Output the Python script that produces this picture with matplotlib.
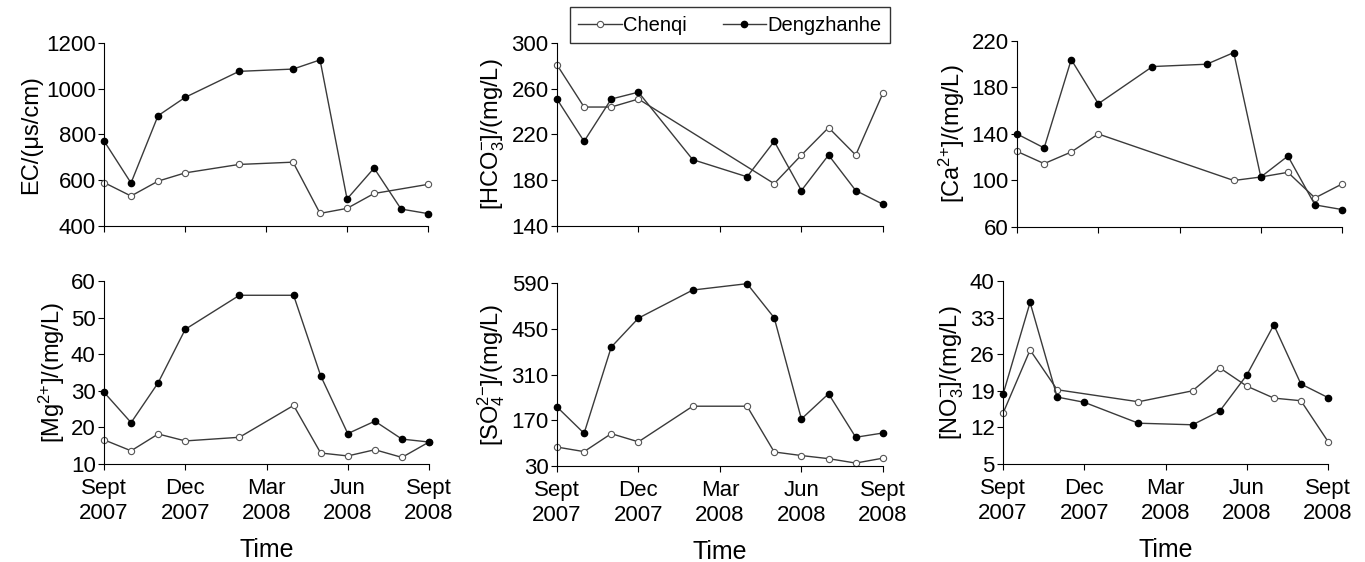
import numpy as np
import matplotlib
matplotlib.use("Agg")
import matplotlib.pyplot as plt

plt.rcParams['font.family'] = ['Liberation Sans', 'DejaVu Sans']
plt.rcParams['mathtext.fontset'] = 'custom'
plt.rcParams['mathtext.rm'] = 'Liberation Sans'
plt.rcParams['mathtext.it'] = 'Liberation Sans:italic'

# months since Sept 2007
tick_pos = [0, 3, 6, 9, 12]
tick_labels = ['Sept\n2007', 'Dec\n2007', 'Mar\n2008', 'Jun\n2008', 'Sept\n2008']

# EC
ec_x_c = [0, 1, 2, 3, 5, 7, 8, 9, 10, 12]
ec_c = [590, 531, 596, 632, 669, 679, 455, 477, 542, 582]
ec_x_d = [0, 1, 2, 3, 5, 7, 8, 9, 10, 11, 12]
ec_d = [772, 588, 882, 962, 1076, 1086, 1126, 518, 653, 474, 454]

# HCO3
hco3_x_c = [0, 1, 2, 3, 8, 9, 10, 11, 12]
hco3_c = [281, 244, 244, 251, 177, 202, 226, 202, 256]
hco3_x_d = [0, 1, 2, 3, 5, 7, 8, 9, 10, 11, 12]
hco3_d = [251, 214, 251, 257, 198, 183, 214, 171, 202, 171, 159]

# Ca
ca_x_c = [0, 1, 2, 3, 8, 9, 10, 11, 12]
ca_c = [125, 114.5, 124.5, 140, 100, 103, 107, 85, 97]
ca_x_d = [0, 1, 2, 3, 5, 7, 8, 9, 10, 11, 12]
ca_d = [140, 128, 204, 166, 198, 200, 210, 103, 121, 79, 75]

# Mg
mg_x_c = [0, 1, 2, 3, 5, 7, 8, 9, 10, 11, 12]
mg_c = [16.6, 13.6, 18.2, 16.3, 17.3, 26.0, 13.0, 12.2, 13.9, 11.8, 16.0]
mg_x_d = [0, 1, 2, 3, 5, 7, 8, 9, 10, 11, 12]
mg_d = [29.6, 21.3, 32.2, 46.8, 56.1, 56.1, 34.1, 18.3, 21.7, 16.8, 16.0]

# SO4
so4_x_c = [0, 1, 2, 3, 5, 7, 8, 9, 10, 11, 12]
so4_c = [88, 74, 129, 104, 213, 213, 73, 62, 52.5, 39, 54]
so4_x_d = [0, 1, 2, 3, 5, 7, 8, 9, 10, 11, 12]
so4_d = [211, 130, 394, 482.5, 568.5, 588, 483.5, 174, 251, 118, 131]

# NO3
no3_x_c = [0, 1, 2, 5, 7, 8, 9, 10, 11, 12]
no3_c = [14.7, 26.8, 19.2, 16.9, 19.0, 23.4, 19.9, 17.6, 17.1, 9.3]
no3_x_d = [0, 1, 2, 3, 5, 7, 8, 9, 10, 11, 12]
no3_d = [18.3, 35.9, 17.8, 16.8, 12.8, 12.5, 15.1, 22.0, 31.6, 20.3, 17.7]

panels = [
    # (rect, xc, yc, xd, yd, ylim, yticks, ylabel, bottom row)
    ([0.0762, 0.5979, 0.2374, 0.3256], ec_x_c, ec_c, ec_x_d, ec_d, (400, 1200), [400, 600, 800, 1000, 1200], 'EC/(μs/cm)', False),
    ([0.4080, 0.5979, 0.2388, 0.3256], hco3_x_c, hco3_c, hco3_x_d, hco3_d, (140, 300), [140, 180, 220, 260, 300], r'[HCO$_3^{-}$]/(mg/L)', False),
    ([0.7451, 0.5961, 0.2381, 0.3310], ca_x_c, ca_c, ca_x_d, ca_d, (60, 220), [60, 100, 140, 180, 220], r'[Ca$^{2{+}}$]/(mg/L)', False),
    ([0.0762, 0.1744, 0.2381, 0.3256], mg_x_c, mg_c, mg_x_d, mg_d, (10, 60), [10, 20, 30, 40, 50, 60], r'[Mg$^{2{+}}$]/(mg/L)', True),
    ([0.4080, 0.1708, 0.2388, 0.3256], so4_x_c, so4_c, so4_x_d, so4_d, (30, 590), [30, 170, 310, 450, 590], r'[SO$_4^{2{-}}$]/(mg/L)', True),
    ([0.7348, 0.1744, 0.2381, 0.3256], no3_x_c, no3_c, no3_x_d, no3_d, (5, 40), [5, 12, 19, 26, 33, 40], r'[NO$_3^{-}$]/(mg/L)', True),
]

fig = plt.figure(figsize=(13.65, 5.62), dpi=100)

line_color = '#3a3a3a'
for i, (rect, xc, yc, xd, yd, ylim, yticks, ylabel, bottom) in enumerate(panels):
    ax = fig.add_axes(rect)
    lc, = ax.plot(xc, yc, color=line_color, lw=1.0, marker='o', ms=4.5,
                  mfc='white', mec='#555555', mew=0.8, label='Chenqi', clip_on=False)
    ld, = ax.plot(xd, yd, color=line_color, lw=1.0, marker='o', ms=4.5,
                  mfc='black', mec='black', label='Dengzhanhe', clip_on=False)
    ax.set_xlim(0, 12)
    ax.set_ylim(*ylim)
    ax.set_yticks(yticks)
    ax.set_xticks(tick_pos)
    if bottom:
        ax.set_xticklabels(tick_labels, fontsize=16, linespacing=1.25)
        ax.set_xlabel('Time', fontsize=18, labelpad=10)
    else:
        ax.set_xticklabels([])
    ax.tick_params(axis='y', labelsize=16, length=4, width=0.8, direction='out', pad=2)
    ax.tick_params(axis='x', length=4, width=0.8, direction='out', pad=6)
    ax.set_ylabel(ylabel, fontsize=17, labelpad=3)
    for s in ['top', 'right']:
        ax.spines[s].set_visible(False)
    for s in ['left', 'bottom']:
        ax.spines[s].set_linewidth(0.8)
    if i == 1:
        leg = ax.legend(handles=[lc, ld], ncol=2, loc='upper left',
                        bbox_to_anchor=(0.04, 1.195),
                        fontsize=14.5, frameon=True, fancybox=False,
                        edgecolor='black', handlelength=2.15, handletextpad=0.05,
                        borderpad=0.42, borderaxespad=0, columnspacing=1.8)
        leg.get_frame().set_linewidth(1.0)

fig.savefig('out.png', dpi=100)
